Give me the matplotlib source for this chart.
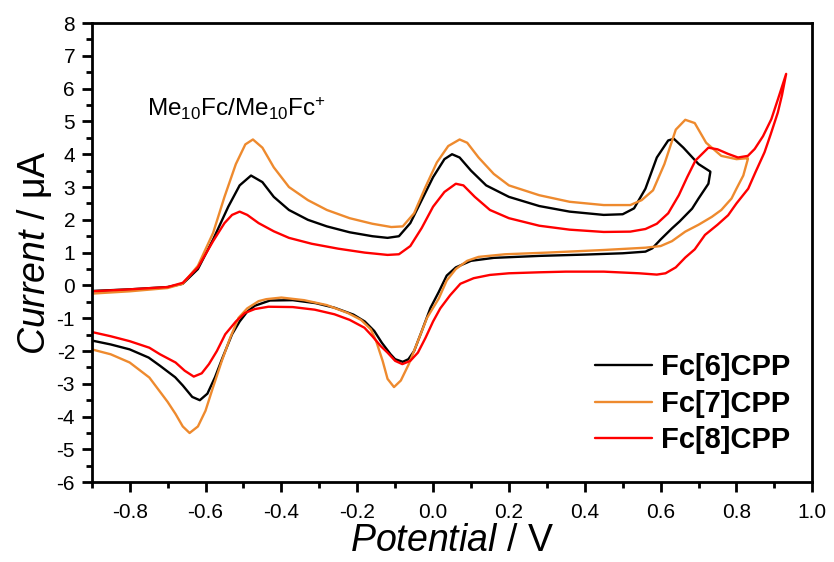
import matplotlib
matplotlib.use('Agg')
import matplotlib.pyplot as plt
from matplotlib.ticker import MultipleLocator

# Colores de las curvas
COLOR_6 = '#000000'
COLOR_7 = '#EE8A2E'
COLOR_8 = '#FF0000'

plt.rcParams['font.family'] = ['Liberation Sans', 'DejaVu Sans']
plt.rcParams['mathtext.fontset'] = 'custom'
plt.rcParams['mathtext.rm'] = 'Liberation Sans'
plt.rcParams['mathtext.it'] = 'Liberation Sans:italic'
plt.rcParams['mathtext.bf'] = 'Liberation Sans:bold'

# Fc[6]CPP: barrido de ida y vuelta (V, uA)
v_fc6 = [-0.90, -0.80, -0.70, -0.66, -0.62, -0.58, -0.54, -0.51, -0.48, -0.45, -0.42, -0.38, -0.33,
         -0.28, -0.22, -0.16, -0.12, -0.09, -0.06, -0.03, 0.00, 0.03, 0.05, 0.07, 0.10, 0.14, 0.20,
         0.28, 0.36, 0.45, 0.50, 0.53, 0.56, 0.59, 0.62, 0.635, 0.66, 0.70, 0.731,
         0.731, 0.726, 0.70, 0.683, 0.65, 0.63, 0.60, 0.578, 0.56, 0.50, 0.40, 0.28, 0.16, 0.10, 0.06,
         0.036, 0.015, -0.007, -0.03, -0.05, -0.065, -0.08, -0.10, -0.112, -0.135, -0.155, -0.18,
         -0.21, -0.26, -0.31, -0.37, -0.43, -0.47, -0.49, -0.51, -0.53, -0.555, -0.575, -0.595,
         -0.615, -0.635, -0.66, -0.68, -0.72, -0.75, -0.80, -0.85, -0.90]
i_fc6 = [-0.17, -0.12, -0.05, 0.05, 0.50, 1.40, 2.40, 3.05, 3.35, 3.15, 2.70, 2.30, 2.00,
         1.80, 1.62, 1.50, 1.45, 1.50, 1.90, 2.60, 3.30, 3.85, 4.00, 3.90, 3.50, 3.05, 2.70,
         2.42, 2.25, 2.15, 2.17, 2.35, 2.95, 3.90, 4.42, 4.47, 4.20, 3.70, 3.47,
         3.45, 3.10, 2.65, 2.34, 1.95, 1.74, 1.40, 1.13, 1.03, 0.98, 0.94, 0.90, 0.84, 0.75, 0.55,
         0.30, -0.20, -0.69, -1.40, -2.00, -2.25, -2.33, -2.25, -2.10, -1.75, -1.39, -1.10,
         -0.89, -0.68, -0.54, -0.45, -0.46, -0.62, -0.80, -1.10, -1.49, -2.20, -2.80, -3.30,
         -3.50, -3.40, -3.05, -2.80, -2.45, -2.20, -1.95, -1.80, -1.68]

# Fc[7]CPP
v_fc7 = [-0.90, -0.80, -0.70, -0.66, -0.62, -0.58, -0.55, -0.52, -0.495, -0.475, -0.45, -0.42, -0.38,
         -0.33, -0.28, -0.22, -0.16, -0.11, -0.08, -0.05, -0.02, 0.01, 0.04, 0.07, 0.09, 0.12, 0.16,
         0.20, 0.28, 0.36, 0.45, 0.52, 0.55, 0.58, 0.61, 0.64, 0.665, 0.69, 0.72, 0.76, 0.80, 0.83,
         0.83, 0.818, 0.80, 0.787, 0.76, 0.735, 0.70, 0.665, 0.63, 0.60, 0.56, 0.45, 0.30, 0.19, 0.12,
         0.09, 0.06, 0.036, 0.015, -0.016, -0.04, -0.064, -0.085, -0.103, -0.12, -0.133, -0.15,
         -0.164, -0.19, -0.225, -0.28, -0.34, -0.40, -0.44, -0.46, -0.49, -0.513, -0.535, -0.557,
         -0.58, -0.60, -0.62, -0.642, -0.66, -0.679, -0.70, -0.748, -0.80, -0.85, -0.90]
i_fc7 = [-0.25, -0.18, -0.08, 0.05, 0.60, 1.60, 2.70, 3.70, 4.30, 4.45, 4.20, 3.60, 3.00,
         2.60, 2.30, 2.05, 1.88, 1.78, 1.80, 2.20, 3.00, 3.75, 4.25, 4.45, 4.35, 3.90, 3.40,
         3.05, 2.75, 2.55, 2.45, 2.45, 2.60, 2.90, 3.70, 4.75, 5.05, 4.95, 4.35, 3.95, 3.85, 3.88,
         3.85, 3.35, 2.95, 2.65, 2.30, 2.09, 1.85, 1.64, 1.35, 1.20, 1.15, 1.08, 1.00, 0.95, 0.87,
         0.75, 0.50, 0.15, -0.40, -0.99, -1.70, -2.40, -2.90, -3.10, -2.85, -2.30, -1.70,
         -1.34, -1.05, -0.84, -0.60, -0.45, -0.37, -0.42, -0.48, -0.70, -0.99, -1.60, -2.30,
         -3.10, -3.82, -4.30, -4.50, -4.30, -3.92, -3.55, -2.81, -2.35, -2.10, -1.95]

# Fc[8]CPP
v_fc8 = [-0.90, -0.80, -0.70, -0.66, -0.62, -0.58, -0.55, -0.53, -0.51, -0.49, -0.46, -0.42, -0.38,
         -0.32, -0.25, -0.18, -0.12, -0.09, -0.06, -0.03, 0.00, 0.03, 0.06, 0.08, 0.11, 0.15, 0.20,
         0.28, 0.36, 0.45, 0.52, 0.56, 0.59, 0.62, 0.648, 0.67, 0.692, 0.726, 0.75, 0.778, 0.804,
         0.83, 0.848, 0.87, 0.892, 0.91, 0.931,
         0.931, 0.92, 0.909, 0.89, 0.874, 0.85, 0.831, 0.80, 0.778, 0.75, 0.717, 0.69, 0.665, 0.64,
         0.613, 0.59, 0.543, 0.45, 0.35, 0.28, 0.20, 0.15, 0.107, 0.072, 0.045, 0.019, 0.00, -0.02,
         -0.04, -0.06, -0.081, -0.10, -0.12, -0.138, -0.16, -0.181, -0.22, -0.26, -0.312, -0.37,
         -0.434, -0.47, -0.496, -0.52, -0.548, -0.57, -0.591, -0.61, -0.631, -0.655, -0.679, -0.72,
         -0.748, -0.80, -0.85, -0.90]
i_fc8 = [-0.18, -0.12, -0.05, 0.08, 0.55, 1.35, 1.90, 2.15, 2.25, 2.15, 1.90, 1.65, 1.45,
         1.27, 1.12, 1.00, 0.93, 0.95, 1.20, 1.75, 2.40, 2.85, 3.10, 3.05, 2.70, 2.30, 2.05,
         1.82, 1.70, 1.63, 1.64, 1.72, 1.88, 2.20, 2.75, 3.30, 3.81, 4.20, 4.15, 4.01, 3.90,
         3.95, 4.16, 4.55, 5.07, 5.70, 6.45,
         6.45, 5.80, 5.27, 4.60, 4.06, 3.45, 2.95, 2.50, 2.14, 1.85, 1.54, 1.10, 0.85, 0.55,
         0.37, 0.33, 0.37, 0.42, 0.42, 0.40, 0.37, 0.32, 0.22, 0.05, -0.30, -0.70, -1.10, -1.60,
         -2.05, -2.30, -2.40, -2.30, -2.05, -1.85, -1.55, -1.29, -1.05, -0.88, -0.74, -0.66,
         -0.65, -0.72, -0.84, -1.10, -1.49, -2.00, -2.40, -2.68, -2.78, -2.60, -2.35, -2.10,
         -1.90, -1.70, -1.55, -1.42]

fig = plt.figure(figsize=(8.34, 5.62), dpi=100)
ax = fig.add_axes([0.110, 0.142, 0.864, 0.817])

estilo = dict(linewidth=1.7, solid_joinstyle='round', solid_capstyle='round')
ax.plot(v_fc6, i_fc6, color=COLOR_6, label='Fc[6]CPP', **estilo)
ax.plot(v_fc7, i_fc7, color=COLOR_7, label='Fc[7]CPP', **estilo)
ax.plot(v_fc8, i_fc8, color=COLOR_8, label='Fc[8]CPP', **estilo)

ax.set_xlim(-0.9, 1.0)
ax.set_ylim(-6, 8)
ax.xaxis.set_minor_locator(MultipleLocator(0.1))
ax.yaxis.set_minor_locator(MultipleLocator(0.5))
ax.set_xticks([-0.8, -0.6, -0.4, -0.2, 0.0, 0.2, 0.4, 0.6, 0.8, 1.0])
ax.set_xticklabels(['-0.8', '-0.6', '-0.4', '-0.2', '0.0', '0.2', '0.4', '0.6', '0.8', '1.0'])
ax.set_yticks(range(-6, 9))
ax.set_yticklabels([str(t) for t in range(-6, 9)])

for s in ax.spines.values():
    s.set_linewidth(2.0)
ax.tick_params(which='major', direction='out', length=7, width=2, labelsize=15, pad=5)
ax.tick_params(axis='x', which='major', pad=8)
ax.tick_params(which='minor', direction='out', length=4, width=2)
ax.tick_params(top=False, right=False, which='both')

ax.set_xlabel(r'$\mathit{Potential}$ / V', fontsize=27, labelpad=1)
ax.set_ylabel(r'$\mathit{Current}$ / μA', fontsize=27, labelpad=2)

ax.text(-0.755, 5.4, r'Me$_{10}$Fc/Me$_{10}$Fc$^{+}$', fontsize=17.5, ha='left', va='center')

leg = ax.legend(loc='lower right', frameon=False, prop={'weight': 'bold', 'size': 21},
                handlelength=1.95, handletextpad=0.3, labelspacing=0.3,
                borderaxespad=0, bbox_to_anchor=(0.985, 0.035))

fig.savefig('out.png', dpi=100)
